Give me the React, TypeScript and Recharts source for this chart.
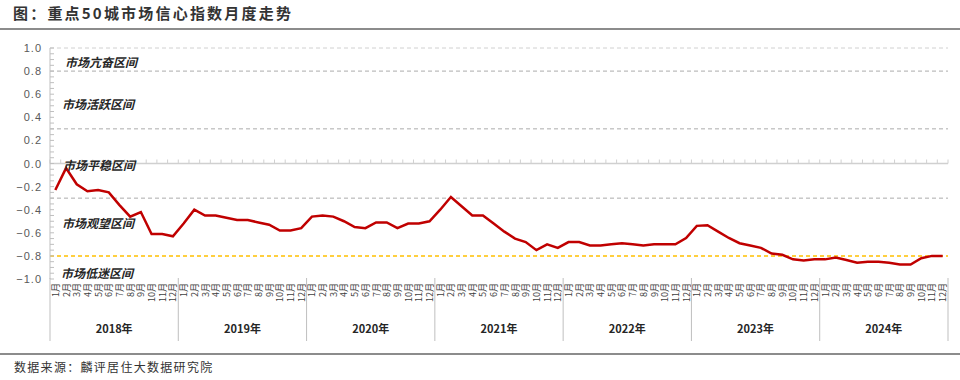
import React from 'react';
import { LineChart, Line, XAxis, YAxis, ReferenceLine } from 'recharts';

// 重点50城市场信心指数（月度）
const years = ['2018年', '2019年', '2020年', '2021年', '2022年', '2023年', '2024年'];
const months = ['1月', '2月', '3月', '4月', '5月', '6月', '7月', '8月', '9月', '10月', '11月', '12月'];

const confidence = [
  // 2018
  -0.23, -0.04, -0.18, -0.24, -0.23, -0.25, -0.36, -0.46, -0.42, -0.61, -0.61, -0.63,
  // 2019
  -0.52, -0.40, -0.45, -0.45, -0.47, -0.49, -0.49, -0.51, -0.53, -0.58, -0.58, -0.56,
  // 2020
  -0.46, -0.45, -0.46, -0.50, -0.55, -0.56, -0.51, -0.51, -0.56, -0.52, -0.52, -0.50,
  // 2021
  -0.40, -0.29, -0.37, -0.45, -0.45, -0.52, -0.59, -0.65, -0.68, -0.75, -0.70, -0.73,
  // 2022
  -0.68, -0.68, -0.71, -0.71, -0.70, -0.69, -0.70, -0.71, -0.70, -0.70, -0.70, -0.645,
  // 2023
  -0.54, -0.535, -0.59, -0.645, -0.69, -0.71, -0.73, -0.78, -0.79, -0.83, -0.84, -0.83,
  // 2024
  -0.83, -0.815, -0.835, -0.86, -0.85, -0.85, -0.86, -0.875, -0.875, -0.82, -0.80, -0.80,
];

const yTickValues = [1, 0.8, 0.6, 0.4, 0.2, 0, -0.2, -0.4, -0.6, -0.8, -1];
const yTickLabels = ['1.0', '0.8', '0.6', '0.4', '0.2', '0.0', '−0.2', '−0.4', '−0.6', '−0.8', '−1.0'];

// 区间分界线
const zoneBounds = [1, 0.8, 0.3, -0.3];
const lowBound = -0.8;

const zones = [
  { name: '市场亢奋区间', left: 65, top: 62 },
  { name: '市场活跃区间', left: 62, top: 104 },
  { name: '市场平稳区间', left: 63, top: 165 },
  { name: '市场观望区间', left: 62, top: 223 },
  { name: '市场低迷区间', left: 61, top: 273 },
];

const data = confidence.map((v, i) => ({
  key: i,
  year: years[Math.floor(i / 12)],
  month: i % 12,
  value: v,
}));

// minor ticks every 0.05 on the value axis
const yAllTicks = Array.from({ length: 41 }, (_, i) => Math.round((1 - i * 0.05) * 100) / 100);

const W = 960;
const H = 380;
const PLOT_LEFT = 50;
const PLOT_RIGHT = 948;
const BAND = (PLOT_RIGHT - PLOT_LEFT) / confidence.length;

const cjk = '"Noto Sans CJK SC", "Noto Sans", sans-serif';

function YTick(props: any) {
  const { x, y, payload } = props;
  const axisX = x + 8;
  const idx = yTickValues.findIndex((t) => Math.abs(t - payload.value) < 1e-6);
  return (
    <g>
      <line x1={axisX} x2={axisX + 4} y1={y} y2={y} stroke="#bfbfbf" strokeWidth={1} />
      {idx >= 0 && (
        <text
          x={x}
          y={y}
          textAnchor="end"
          dominantBaseline="central"
          fontFamily='"Liberation Sans", Arial, sans-serif'
          fontSize={11}
          letterSpacing={1}
          fill="#595959"
        >
          {yTickLabels[idx]}
        </text>
      )}
    </g>
  );
}

function XTick(props: any) {
  const { x, y, payload } = props;
  const row = data[payload.index ?? payload.value];
  if (!row) return null;
  const left = x - BAND / 2;
  const right = x + BAND / 2;
  return (
    <g>
      <text
        x={x}
        y={y}
        transform={`rotate(-90, ${x}, ${y})`}
        textAnchor="end"
        dominantBaseline="central"
        fontFamily={cjk}
        fontSize={9}
        fill="#404040"
      >
        {months[row.month]}
      </text>
      {row.month === 0 && (
        <line x1={left} x2={left} y1={y - 5} y2={y + 58} stroke="#bfbfbf" strokeWidth={1} />
      )}
      {row.key === data.length - 1 && (
        <line x1={right} x2={right} y1={y - 5} y2={y + 58} stroke="#bfbfbf" strokeWidth={1} />
      )}
      {row.month === 6 && (
        <text
          x={left}
          y={y + 45}
          textAnchor="middle"
          dominantBaseline="central"
          fontFamily={cjk}
          fontSize={11}
          fontWeight={700}
          fill="#262626"
        >
          {row.year}
        </text>
      )}
    </g>
  );
}

function ZeroAxis(props: any) {
  const { x1, x2, y1 } = props;
  const n = confidence.length;
  const step = (x2 - x1) / n;
  const ticks = Array.from({ length: n + 1 }, (_, i) => x1 + i * step);
  return (
    <g>
      <line x1={x1} x2={x2} y1={y1} y2={y1} stroke="#d0d0d0" strokeWidth={1.5} />
      {ticks.map((tx, i) => (
        <line key={i} x1={tx} x2={tx} y1={y1} y2={y1 - 4} stroke="#d0d0d0" strokeWidth={1} />
      ))}
    </g>
  );
}

export default function App() {
  return (
    <div
      style={{
        position: 'absolute',
        left: 0,
        top: 0,
        width: W,
        height: H,
        background: '#fff',
        overflow: 'hidden',
      }}
    >
      <div
        style={{
          position: 'absolute',
          left: 13,
          top: 2,
          fontFamily: cjk,
          fontSize: 15,
          fontWeight: 700,
          letterSpacing: 2.2,
          color: '#333',
          lineHeight: '22px',
          whiteSpace: 'nowrap',
        }}
      >
        图：重点50城市场信心指数月度走势
      </div>
      <div style={{ position: 'absolute', left: 0, top: 28, width: W, height: 2, background: '#8c8c8c' }} />

      <div style={{ position: 'absolute', left: 0, top: 0 }}>
        <LineChart width={W} height={H} data={data} margin={{ top: 48, right: W - PLOT_RIGHT, bottom: 0, left: 0 }}>
          <XAxis
            dataKey="key"
            type="category"
            scale="band"
            height={101}
            interval={0}
            axisLine={false}
            tickLine={false}
            tickSize={0}
            tickMargin={4}
            tick={<XTick />}
          />
          <YAxis
            type="number"
            domain={[-1, 1]}
            ticks={yAllTicks}
            interval={0}
            width={PLOT_LEFT}
            tickSize={0}
            tickMargin={8}
            tickLine={false}
            axisLine={{ stroke: '#bfbfbf', strokeWidth: 1 }}
            tick={<YTick />}
          />
          {zoneBounds.map((b) => (
            <ReferenceLine
              key={b}
              y={b}
              stroke={b === 1 ? '#d0d0d0' : '#ababab'}
              strokeWidth={1}
              strokeDasharray="4 3"
            />
          ))}
          <ReferenceLine y={0} shape={<ZeroAxis />} />
          <ReferenceLine y={lowBound} stroke="#ffc000" strokeWidth={1.5} strokeDasharray="4 3" />
          <Line
            type="linear"
            dataKey="value"
            stroke="#c00000"
            strokeWidth={2.5}
            dot={false}
            isAnimationActive={false}
          />
        </LineChart>
      </div>

      {zones.map((z) => (
        <div
          key={z.name}
          style={{
            position: 'absolute',
            left: z.left,
            top: z.top - 8,
            height: 16,
            lineHeight: '16px',
            fontFamily: cjk,
            fontSize: 12,
            fontStyle: 'italic',
            fontWeight: 700,
            color: '#262626',
            whiteSpace: 'nowrap',
          }}
        >
          {z.name}
        </div>
      ))}

      <div style={{ position: 'absolute', left: 0, top: 353, width: W, height: 2, background: '#8c8c8c' }} />
      <div
        style={{
          position: 'absolute',
          left: 14,
          top: 358,
          fontFamily: cjk,
          fontSize: 12,
          letterSpacing: 1.3,
          color: '#333',
          lineHeight: '18px',
          whiteSpace: 'nowrap',
        }}
      >
        数据来源：麟评居住大数据研究院
      </div>
    </div>
  );
}
